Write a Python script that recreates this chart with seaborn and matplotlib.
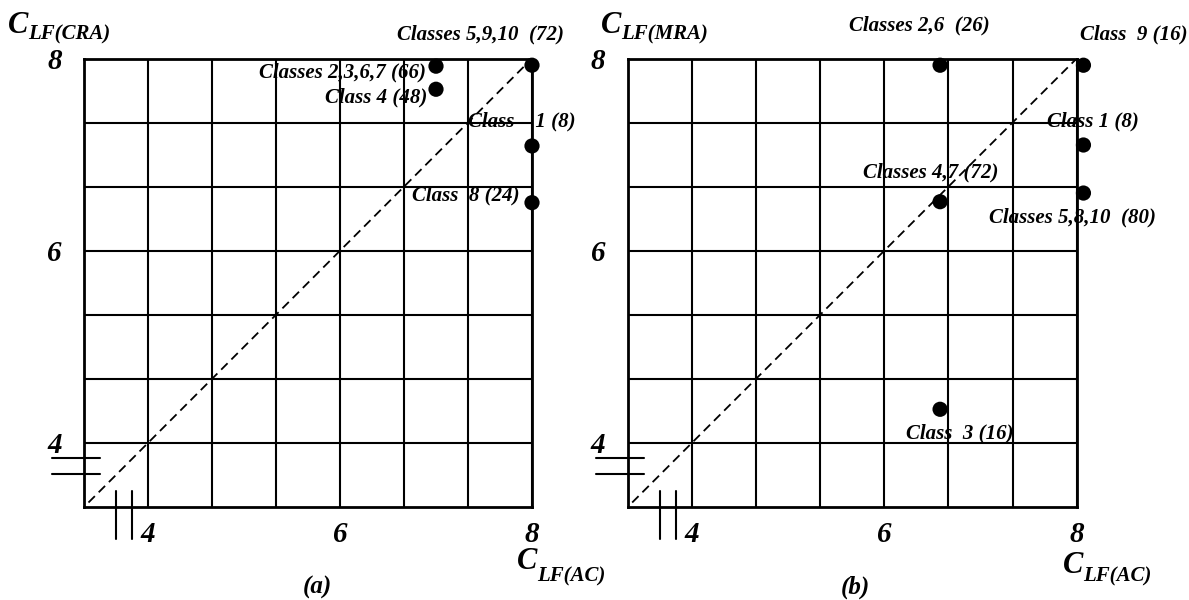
import matplotlib
matplotlib.use("Agg")
import matplotlib.pyplot as plt
import seaborn as sns
import pandas as pd

sns.set_style("white")
plt.rcParams['font.family'] = ['Liberation Serif', 'DejaVu Serif']

W, H = 1189, 600

# grid / tick values (same on both axes)
ticks = [4, 14/3, 16/3, 6, 20/3, 22/3, 8]
tick_labels = ['4', '', '', '6', '', '', '8']
diag = [3.38, 8.0]

# panel (a): C_LF(AC) vs C_LF(CRA)
a_x = [8.0, 7.0, 7.0, 8.0, 8.0]
a_y = [7.93, 7.92, 7.68, 7.09, 6.50]
a_text = ['Classes 5,9,10  (72)', 'Classes 2,3,6,7 (66)', 'Class 4 (48)',
          'Class    1 (8)', 'Class  8 (24)']

# panel (b): C_LF(AC) vs C_LF(MRA)
b_x = [6.58, 8.07, 8.07, 6.58, 8.07, 6.58]
b_y = [7.93, 7.93, 7.10, 6.51, 6.60, 4.35]
b_text = ['Classes 2,6  (26)', 'Class  9 (16)', 'Class 1 (8)',
          'Classes 4,7 (72)', 'Classes 5,8,10  (80)', 'Class  3 (16)']

# label anchors (data units) and alignment
a_pos = [(7.46, 8.245, 'center'), (6.90, 7.85, 'right'), (6.91, 7.59, 'right'),
         (7.33, 7.34, 'left'), (6.75, 6.57, 'left')]
b_pos = [(6.36, 8.34, 'center'), (8.035, 8.245, 'left'), (7.69, 7.34, 'left'),
         (5.78, 6.81, 'left'), (7.09, 6.35, 'left'), (6.23, 4.10, 'left')]

bi = dict(fontweight='bold', fontstyle='italic', color='black')

fig = plt.figure(figsize=(W / 100, H / 100), dpi=100)
ax_a = fig.add_axes([84 / W, 1 - 507 / H, 448 / W, 448.5 / H])
ax_b = fig.add_axes([627.7 / W, 1 - 507 / H, 449 / W, 448.5 / H])


def draw_panel(ax, xs, ys, texts, pos):
    ax.set_xlim(10 / 3, 8)
    ax.set_ylim(10 / 3, 8)
    ax.set_xticks(ticks)
    ax.set_yticks(ticks)
    ax.set_xticklabels(tick_labels, fontsize=21, **bi)
    ax.set_yticklabels(tick_labels, fontsize=21, **bi)
    ax.tick_params(axis='x', length=0, pad=10)
    ax.tick_params(axis='y', length=0, pad=16)
    ax.grid(True, color='black', linewidth=1.5)
    for s in ax.spines.values():
        s.set_color('black')
        s.set_linewidth(2.0)
    ax.set_axisbelow(True)
    ax.plot(diag, diag, color='black', lw=1.3, ls=(0, (5, 3)))
    df = pd.DataFrame({'x': xs, 'y': ys})
    sns.scatterplot(data=df, x='x', y='y', ax=ax, s=120, color='black',
                    edgecolor='none', clip_on=False, zorder=5)
    for t, (tx, ty, ha) in zip(texts, pos):
        ax.text(tx, ty, t, ha=ha, va='center', fontsize=15, zorder=6, **bi)
    # axis break marks
    for yb in (3.672, 3.839):
        ax.plot([3.0, 3.5], [yb, yb], color='black', lw=1.5, clip_on=False)
    for xb in (3.667, 3.836):
        ax.plot([xb, xb], [3.0, 3.495], color='black', lw=1.5, clip_on=False)
    ax.set_xlabel('')
    ax.set_ylabel('')


draw_panel(ax_a, a_x, a_y, a_text, a_pos)
draw_panel(ax_b, b_x, b_y, b_text, b_pos)


def ftext(px, py, s, size, **kw):
    fig.text(px / W, 1 - py / H, s, fontsize=size, **bi, **kw)


def axis_label(px, py, sub, sub_py):
    ftext(px, py, 'C', 22, ha='left', va='baseline')
    ftext(px + 20, sub_py, sub, 15, ha='left', va='baseline')


axis_label(8, 33, 'LF(CRA)', 39)
axis_label(601, 33, 'LF(MRA)', 39)
axis_label(517, 569, 'LF(AC)', 581)
axis_label(1063, 573, 'LF(AC)', 581)

ftext(317, 587, '(a)', 18, ha='center', va='center')
ftext(855, 587, '(b)', 18, ha='center', va='center')

fig.savefig('out.png', dpi=100)
